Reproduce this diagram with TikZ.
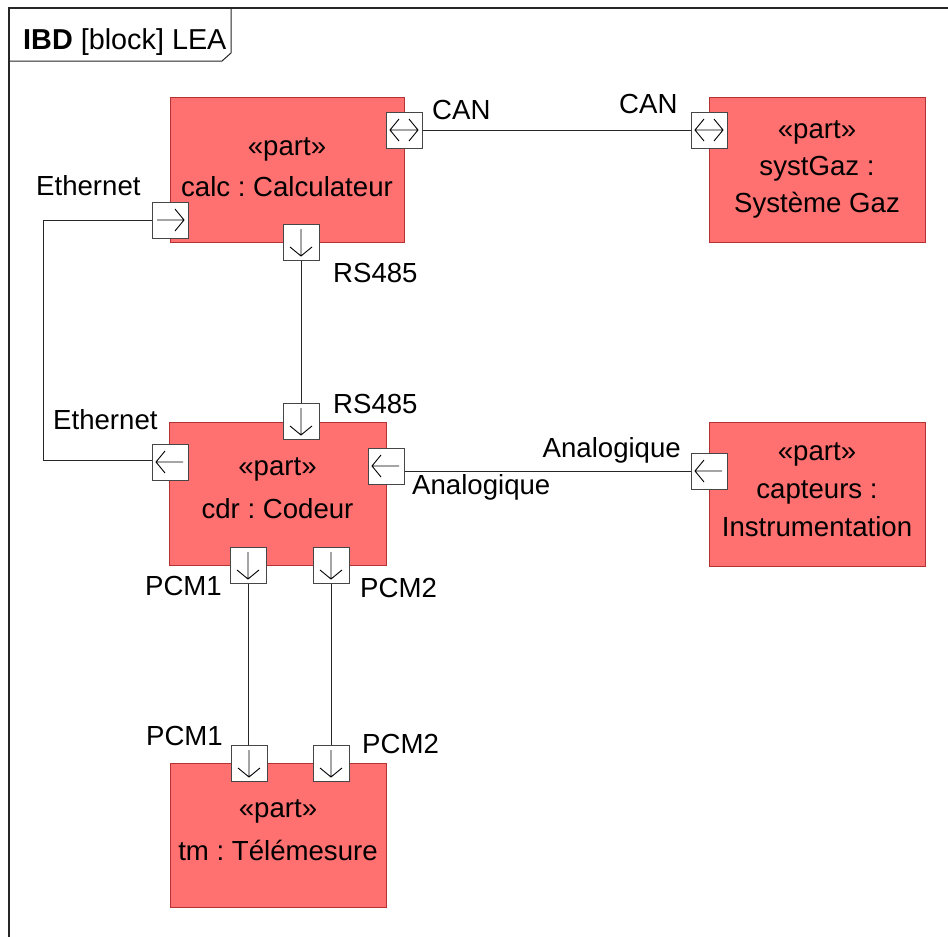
\documentclass[tikz,border=0pt]{standalone}
\usepackage{fontspec}
\setmainfont{Liberation Sans}
\frenchspacing
\definecolor{partfill}{RGB}{255,112,112}
\definecolor{partdraw}{RGB}{180,50,50}
\definecolor{portdraw}{RGB}{70,70,70}
\tikzset{
  part/.style={draw=partdraw, fill=partfill, line width=1pt, inner sep=0pt},
  port/.style={draw=portdraw, fill=white, line width=1pt, minimum width=36pt, minimum height=36pt, inner sep=0pt},
  lbl/.style={inner sep=0pt, font=\fontsize{27.6}{32}\selectfont},
  conn/.style={draw=black!85, line width=0.9pt},
  parrow/.style={line width=0.9pt, black},
  frame/.style={line width=1.3pt, black!85}
}
\newcommand{\portsym}[2]{%
  \draw[parrow, shift={(#1.center)}, rotate=#2] (-13,0) -- (14,0) (5,-11) -- (14,0) -- (5,11);}
\newcommand{\portsymboth}[2]{%
  \draw[parrow, shift={(#1.center)}, rotate=#2] (-14,0) -- (14,0) (5,-11) -- (14,0) -- (5,11) (-5,-11) -- (-14,0) -- (-5,11);}
\begin{document}
\begin{tikzpicture}[x=1pt,y=-1pt]
\useasboundingbox[fill=white] (0,0) rectangle (948,937);
% frame
\draw[frame] (948,8) -- (9,8) -- (9,937);
\draw[line width=1pt, black!85] (9,61) -- (222,61) -- (231,53) -- (231,8);
\node[lbl, anchor=base west, font=\fontsize{28.8}{33}\selectfont] (title) at (23,49) {\textbf{IBD} [block] LEA};

% parts
\node[part, minimum width=234pt, minimum height=145pt] (calc) at (287,169.5) {};
\node[part, minimum width=216pt, minimum height=145pt] (sg) at (817,169.5) {};
\node[part, minimum width=217pt, minimum height=143pt] (cdr) at (277.5,493.5) {};
\node[part, minimum width=216pt, minimum height=144pt] (cap) at (817,494) {};
\node[part, minimum width=216pt, minimum height=144pt] (tm) at (278,835) {};

% part texts
\node[lbl, anchor=base] (calcT1) at (287,155) {«part»};
\node[lbl, anchor=base] (calcT2) at (287,196) {calc : Calculateur};
\node[lbl, anchor=base] (sgT1) at (817,138) {«part»};
\node[lbl, anchor=base] (sgT2) at (817,175) {systGaz :};
\node[lbl, anchor=base] (sgT3) at (817,212) {Système Gaz};
\node[lbl, anchor=base] (cdrT1) at (277.5,475) {«part»};
\node[lbl, anchor=base] (cdrT2) at (277.5,518) {cdr : Codeur};
\node[lbl, anchor=base] (capT1) at (817,460) {«part»};
\node[lbl, anchor=base] (capT2) at (817,498) {capteurs :};
\node[lbl, anchor=base] (capT3) at (817,536) {Instrumentation};
\node[lbl, anchor=base] (tmT1) at (278,817) {«part»};
\node[lbl, anchor=base] (tmT2) at (278,860) {tm : Télémesure};

% ports
\node[port] (calcCAN) at (404,130) {};
\node[port] (sgCAN) at (709,130) {};
\node[port] (calcE) at (170,220) {};
\node[port] (calcRS) at (301,242) {};
\node[port] (cdrRS) at (301,421) {};
\node[port] (cdrE) at (170,462) {};
\node[port] (cdrA) at (386,466) {};
\node[port] (capA) at (709,471) {};
\node[port] (cdrP1) at (248,565) {};
\node[port] (cdrP2) at (331,565) {};
\node[port] (tmP1) at (249,763) {};
\node[port] (tmP2) at (331,763) {};

% connectors
\draw[conn] (calcCAN.east) -- (sgCAN.west);
\draw[conn] (calcE.west) -- ++(-108,0) |- ([yshift=2pt]cdrE.west);
\draw[conn] (calcRS.south) -- (cdrRS.north);
\draw[conn] (capA.west) -- (capA.west -| cdrA.east);
\draw[conn] (cdrP1.south) -- (cdrP1.south |- tmP1.north);
\draw[conn] (cdrP2.south) -- (tmP2.north);

% port symbols
\portsymboth{calcCAN}{0}
\portsymboth{sgCAN}{0}
\portsym{calcE}{0}
\portsym{calcRS}{-90}
\portsym{cdrRS}{-90}
\portsym{cdrE}{180}
\portsym{cdrA}{180}
\portsym{capA}{180}
\portsym{cdrP1}{-90}
\portsym{cdrP2}{-90}
\portsym{tmP1}{-90}
\portsym{tmP2}{-90}

% port labels
\node[lbl, anchor=base west] (lCAN1) at (432,119) {CAN};
\node[lbl, anchor=base west] (lCAN2) at (619,113) {CAN};
\node[lbl, anchor=base west] (lEth1) at (36,195) {Ethernet};
\node[lbl, anchor=base west] (lRS1) at (333,282) {RS485};
\node[lbl, anchor=base west] (lRS2) at (333,413) {RS485};
\node[lbl, anchor=base west] (lEth2) at (53,429) {Ethernet};
\node[lbl, anchor=base east] (lAn1) at (681,457) {Analogique};
\node[lbl, anchor=base west] (lAn2) at (412,494) {Analogique};
\node[lbl, anchor=base east] (lP1a) at (222,595) {PCM1};
\node[lbl, anchor=base west] (lP2a) at (360,597) {PCM2};
\node[lbl, anchor=base east] (lP1b) at (223,745) {PCM1};
\node[lbl, anchor=base west] (lP2b) at (362,753) {PCM2};
\end{tikzpicture}
\end{document}
